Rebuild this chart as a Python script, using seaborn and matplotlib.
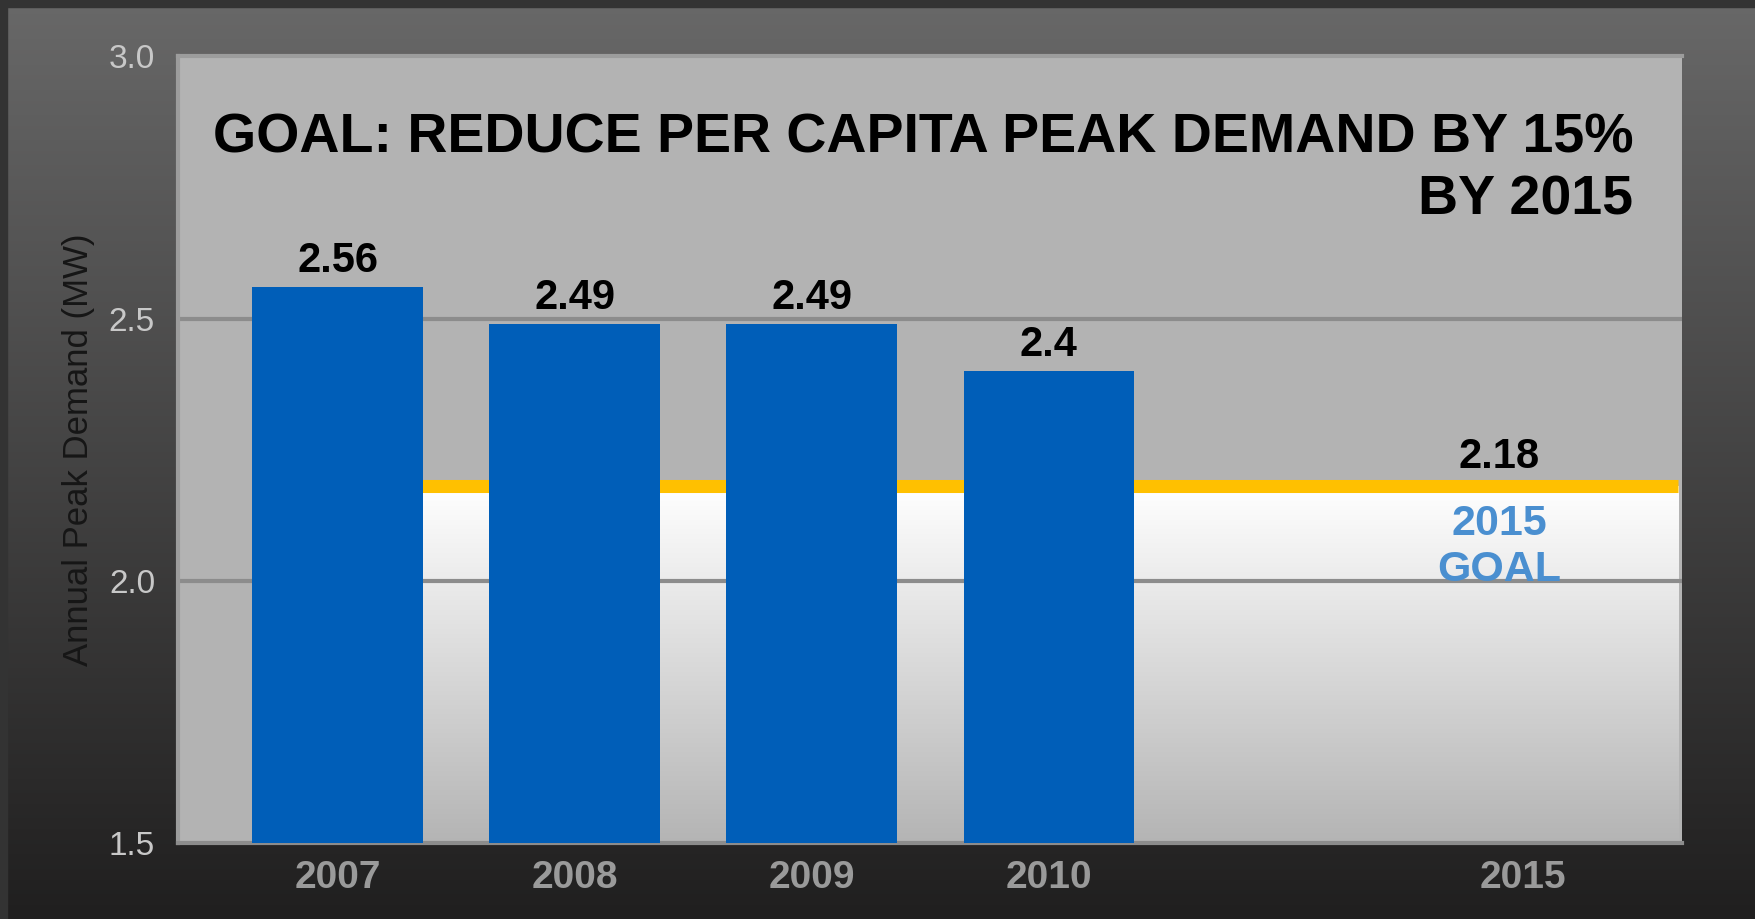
import numpy as np
import pandas as pd
import matplotlib
matplotlib.use("Agg")
import matplotlib.pyplot as plt
from matplotlib.colors import LinearSegmentedColormap
import seaborn as sns

# chart values
years = ["2007", "2008", "2009", "2010"]
positions = [0, 1, 2, 3]
peak_demand = [2.56, 2.49, 2.49, 2.40]
goal_year = "2015"
goal_position = 5
goal_value = 2.18
y_ticks = [1.5, 2.0, 2.5, 3.0]

title = "GOAL: REDUCE PER CAPITA PEAK DEMAND BY 15%\nBY 2015"
ylabel = "Annual Peak Demand (MW)"

sns.set_style("white")
plt.rcParams["font.family"] = ["Liberation Sans", "DejaVu Sans"]

df = pd.DataFrame({"pos": positions, "year": years, "value": peak_demand})

fig = plt.figure(figsize=(17.55, 9.19), dpi=100)

# dark gradient background for the whole slide
bg = fig.add_axes([0, 0, 1, 1], zorder=-10)
bg_cmap = LinearSegmentedColormap.from_list("bg", ["#201f1f", "#686868"])
bg.imshow(np.linspace(1, 0, 256).reshape(-1, 1), cmap=bg_cmap, aspect="auto",
          extent=[0, 1, 0, 1], vmin=0, vmax=1)
bg.axhspan(0.992, 1.0, color="#333333")
bg.axvspan(0.0, 0.004, color="#333333")
bg.set_xlim(0, 1)
bg.set_ylim(0, 1)
bg.axis("off")

ax = fig.add_axes([0.1014, 0.0827, 0.857, 0.856])
ax.set_facecolor("#b3b3b3")

# white-to-grey band under the goal line
band_cmap = LinearSegmentedColormap.from_list("band", ["#b4b4b4", "#ffffff"])
ax.imshow(np.linspace(0, 1, 256).reshape(-1, 1), cmap=band_cmap, aspect="auto",
          origin="lower", extent=[positions[0], 5.655, 1.5, goal_value], zorder=1)

# gridlines
ax.hlines(y_ticks[1:3], -0.673, 5.67, color="#8c8c8c", lw=3, zorder=2)

# goal line
ax.hlines(goal_value, positions[0], 5.655, color="#ffc000", lw=9.4, zorder=2.5)

sns.barplot(data=df, x="pos", y="value", native_scale=True, width=0.72,
            color="#005eb8", saturation=1, errorbar=None, ax=ax, zorder=3,
            linewidth=0)

for p, v in zip(positions, peak_demand):
    ax.annotate(f"{v:g}", xy=(p, v), xytext=(0, 11), textcoords="offset points",
                ha="center", va="baseline", fontsize=30, fontweight="bold",
                color="black", zorder=5)

ax.annotate(f"{goal_value:g}", xy=(goal_position, goal_value), xytext=(-17, 13),
            textcoords="offset points", ha="center", va="baseline",
            fontsize=30, fontweight="bold", color="black", zorder=5)
ax.annotate("2015", xy=(goal_position, goal_value), xytext=(-17, -35),
            textcoords="offset points", ha="center", va="baseline",
            fontsize=31, fontweight="bold", color="#4a8fd0", zorder=5)
ax.annotate("GOAL", xy=(goal_position, goal_value), xytext=(-17, -68),
            textcoords="offset points", ha="center", va="baseline",
            fontsize=31, fontweight="bold", color="#4a8fd0", zorder=5)

ax.annotate(title, xy=(1, 1), xycoords="axes fraction", xytext=(-35, -114),
            textcoords="offset points", ha="right", va="baseline",
            multialignment="right", fontsize=40, fontweight="bold",
            color="black", linespacing=1.26, zorder=5)

ax.set_xlim(-0.673, 5.67)
ax.set_ylim(1.5, 3.0)
ax.set_xticks(positions + [goal_position])
ax.set_xticklabels(years + [goal_year], fontsize=28, fontweight="bold", color="#9a9a9a")
ax.set_yticks(y_ticks)
ax.set_yticklabels([f"{t:.1f}" for t in y_ticks], fontsize=24, color="#c8c8c8")
ax.tick_params(axis="x", length=0, pad=12)
ax.tick_params(axis="y", length=0, pad=16.5)
ax.set_xlabel("")
ax.set_ylabel(ylabel, fontsize=25, color="#161616")
ax.yaxis.set_label_coords(-0.055, 0.5)

for side in ["left", "top"]:
    ax.spines[side].set_color("#9c9c9c")
    ax.spines[side].set_linewidth(3)
ax.spines["bottom"].set_color("#8c8c8c")
ax.spines["bottom"].set_linewidth(3)
ax.spines["right"].set_visible(False)

fig.savefig("out.png", dpi=100)
